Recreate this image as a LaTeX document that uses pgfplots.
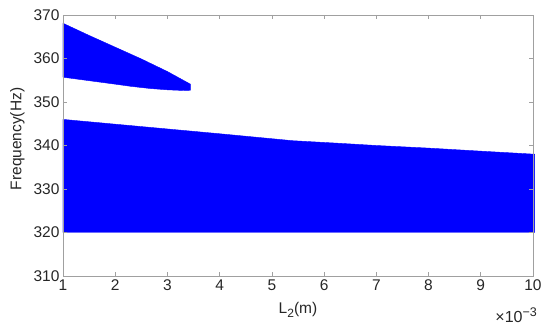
\documentclass[border=0pt]{standalone}
\usepackage{pgfplots}
\pgfplotsset{compat=1.18}
\usepackage{fontspec}
\setmainfont{Liberation Sans}
\definecolor{mblue}{RGB}{0,0,255}
\definecolor{txt}{RGB}{38,38,38}
\definecolor{axc}{RGB}{160,160,160}
\begin{document}
\begin{tikzpicture}
\path[use as bounding box] (-63pt,-56pt) rectangle (487pt,276pt);
\begin{axis}[
  at={(0,0)}, anchor=south west,
  scale only axis, width=470pt, height=261pt,
  xmin=1, xmax=10, ymin=310, ymax=370,
  xtick={1,2,...,10}, ytick={310,320,...,370},
  tick align=inside, major tick length=4pt,
  axis line style={axc, line width=0.6pt},
  tick style={axc, line width=0.6pt},
  ticklabel style={font=\fontsize{15.5}{17}\selectfont, text=txt},
  /pgf/number format/assume math mode=true,
  xlabel={L\raisebox{-0.45ex}{\fontsize{12}{12}\selectfont 2}(m)},
  ylabel={Frequency(Hz)},
  label style={font=\fontsize{15.5}{17}\selectfont, text=txt},
  xlabel style={at={(axis description cs:0.5,-0.13)}, anchor=center},
  ylabel style={at={(axis description cs:-0.097,0.525)}, anchor=center},
  clip=false,
  axis on top,
]
\addplot[fill=mblue, draw=mblue, line width=0.4pt] coordinates {
  (1,320) (1,346.0) (2,344.9) (3,343.8) (4,342.7) (5.4,341.1) (6.3,340.5) (7,340.0) (8,339.4) (9,338.7) (10.03,338.0) (10.03,320)
} -- cycle;
\addplot[fill=mblue, draw=mblue, line width=0.4pt] coordinates {
  (1,368.1) (1.5,365.3) (2,362.6) (2.5,359.9) (3,357.0) (3.44,354.1)
  (3.44,352.7) (3.3,352.65) (3,352.8) (2.67,353.1) (2.3,353.6) (2,354.1) (1.5,354.9) (1,355.7)
} -- cycle;
\end{axis}
\node[anchor=base east, text=txt, font=\fontsize{16}{17}\selectfont, inner sep=0pt] at (474pt,-47pt) {×10\raisebox{0.75ex}{\fontsize{12.5}{13}\selectfont −3}};
\end{tikzpicture}
\end{document}
